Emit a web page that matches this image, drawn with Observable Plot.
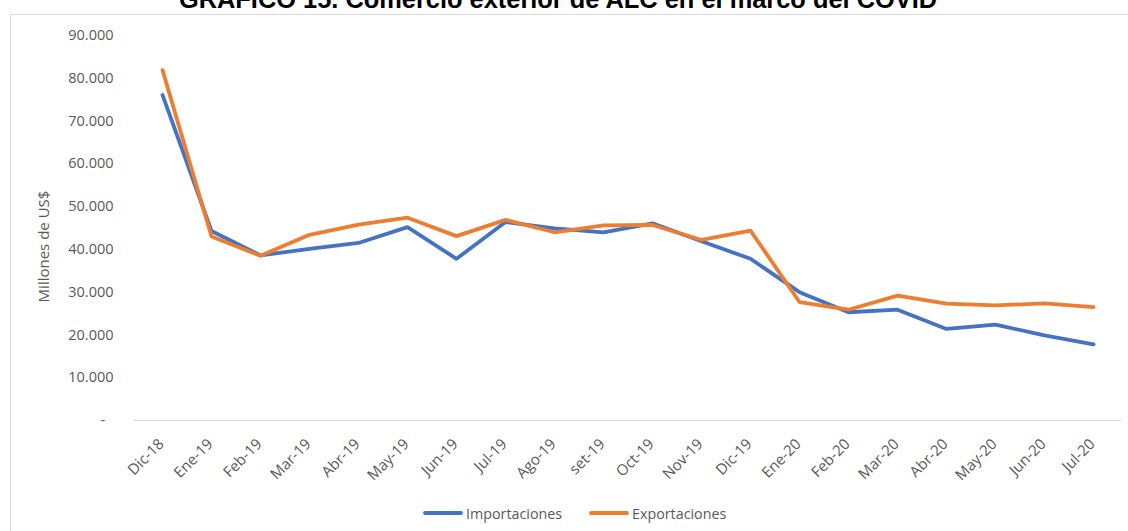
<!DOCTYPE html>
<html><head><meta charset="utf-8">
<script src="https://cdn.jsdelivr.net/npm/d3@7"></script>
<script src="https://cdn.jsdelivr.net/npm/@observablehq/plot@0.6"></script>
<style>
body{margin:0;background:#fff;overflow:hidden}
#page{position:relative;width:1128px;height:531px;overflow:hidden;background:#fff;font-family:"Open Sans",sans-serif}
#frame{position:absolute;left:10px;top:14px;width:1130px;height:530px;border-top:1px solid #d9d9d9;border-left:1px solid #d9d9d9}
#title{position:absolute;left:-6px;width:1128px;top:-11px;text-align:center;font:bold 25.4px "Liberation Sans",sans-serif;line-height:20px;color:#000;white-space:nowrap}
#chart{position:absolute;left:0;top:0}
.leg{position:absolute;top:503px;display:flex;align-items:center;font-size:14.3px;color:#595959;white-space:nowrap;height:20px}
.leg svg{margin-right:3px}
</style>
</head><body>
<div id="page">
  <div id="frame"></div>
  <div id="title">GRÁFICO 15. Comercio exterior de ALC en el marco del COVID</div>
  <div id="chart"></div>
</div>
<script>
const months = ["Dic-18","Ene-19","Feb-19","Mar-19","Abr-19","May-19","Jun-19","Jul-19","Ago-19","set-19","Oct-19","Nov-19","Dic-19","Ene-20","Feb-20","Mar-20","Abr-20","May-20","Jun-20","Jul-20"];
const importaciones = [76100, 44300, 38600, 40100, 41500, 45200, 37800, 46400, 44900, 44000, 46100, 41900, 37800, 30000, 25300, 25900, 21400, 22400, 19900, 17800];
const exportaciones = [81900, 43000, 38500, 43400, 45800, 47400, 43100, 46900, 44000, 45600, 45700, 42200, 44400, 27700, 25900, 29200, 27300, 26900, 27400, 26500];
const seriesNames = ["Importaciones", "Exportaciones"];
const seriesColors = ["#4472C4", "#ED7D31"];
const yTicks = [0, 10000, 20000, 30000, 40000, 50000, 60000, 70000, 80000, 90000];
const yLabel = "Millones de US$";

const data = months.flatMap((m, i) => [
  {mes: m, serie: seriesNames[0], valor: importaciones[i]},
  {mes: m, serie: seriesNames[1], valor: exportaciones[i]}
]);

const fmt = d => d === 0 ? "-\u2007" : d3.format(",")(d).replace(/,/g, ".");

const chart = Plot.plot({
  width: 1128, height: 480,
  marginTop: 35, marginBottom: 60, marginLeft: 134, marginRight: 7,
  style: {fontFamily: '"Open Sans", sans-serif', color: "#595959", background: "transparent", overflow: "visible"},
  x: {type: "point", domain: months, padding: 0.5, label: null, axis: null},
  y: {domain: [0, 90000], label: null},
  color: {domain: seriesNames, range: seriesColors},
  marks: [
    Plot.ruleY([0], {stroke: "#d9d9d9", strokeWidth: 1.2}),
    Plot.axisY({ticks: yTicks, tickSize: 0, tickPadding: 21, tickFormat: fmt, fontSize: 14.5, label: null}),
    Plot.text(months, {x: d => d, frameAnchor: "bottom", dy: 21, dx: -1, rotate: -45, textAnchor: "end", lineAnchor: "middle", fontSize: 15, fill: "#595959"}),
    Plot.text([yLabel], {frameAnchor: "left", dx: -90, dy: 18.5, rotate: -90, textAnchor: "middle", fontSize: 15, fill: "#595959"}),
    Plot.line(data, {x: "mes", y: "valor", z: "serie", stroke: "serie", strokeWidth: 3.8, strokeLinejoin: "round", strokeLinecap: "round"})
  ]
});
document.getElementById("chart").appendChild(chart);

const page = document.getElementById("page");
const legPos = [423, 589];
seriesNames.forEach((s, i) => {
  const d = document.createElement("div");
  d.className = "leg";
  d.style.left = legPos[i] + "px";
  d.innerHTML = `<svg width="40" height="6"><line x1="2" y1="3" x2="38" y2="3" stroke="${seriesColors[i]}" stroke-width="3.8" stroke-linecap="round"/></svg><span>${s}</span>`;
  page.appendChild(d);
});
</script>
</body></html>
